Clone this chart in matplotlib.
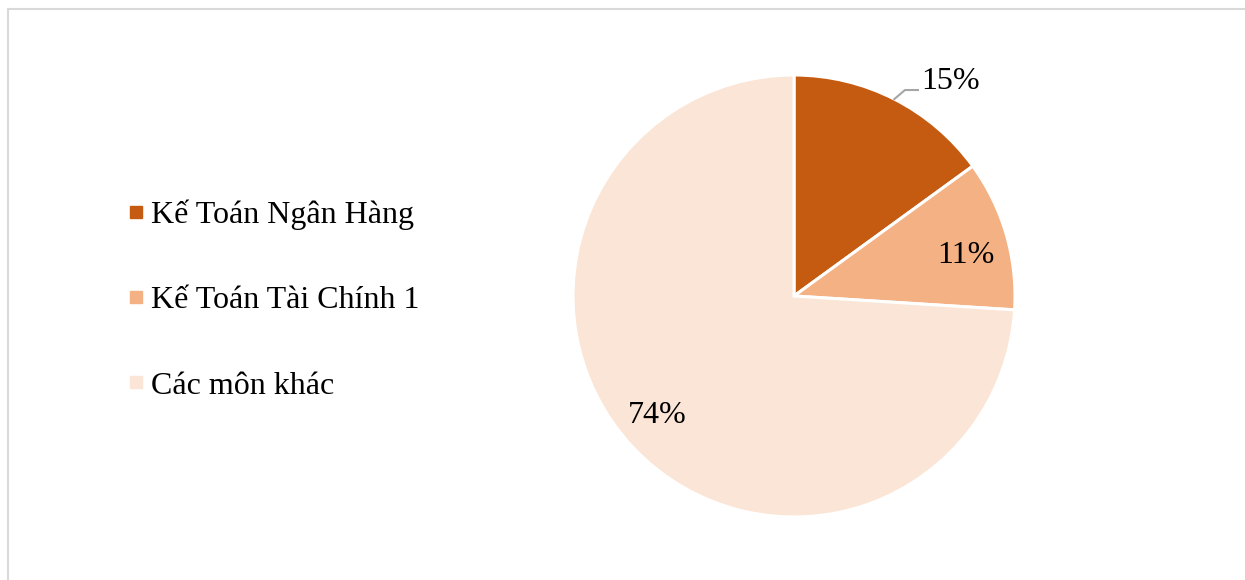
import numpy as np
import matplotlib.pyplot as plt
from matplotlib.lines import Line2D
from matplotlib.patches import Rectangle

plt.rcParams['font.family'] = ['Liberation Serif', 'DejaVu Serif']

# Dữ liệu biểu đồ
labels = ['Kế Toán Ngân Hàng', 'Kế Toán Tài Chính 1', 'Các môn khác']
values = [15, 11, 74]
colors = ['#C55A11', '#F4B183', '#FBE5D6']

W, H = 1245, 580
fig = plt.figure(figsize=(W / 100, H / 100), dpi=100)

# khung viền mờ
fig.add_artist(Rectangle((8 / W, -0.1), 1.2, (H - 8.5) / H + 0.1,
                         transform=fig.transFigure, fill=False,
                         edgecolor='#D9D9D9', linewidth=1.5))

# trục tròn: tâm (794, 296), bán kính 221 px
cx, cy, r = 794, 296, 221
ax = fig.add_axes([(cx - r) / W, (H - cy - r) / H, 2 * r / W, 2 * r / H])

wedges, _ = ax.pie(values, colors=colors, startangle=90, counterclock=False,
                   radius=1, wedgeprops=dict(edgecolor='white', linewidth=2.2))
ax.set_xlim(-1, 1)
ax.set_ylim(-1, 1)
ax.set_aspect('equal')
ax.axis('off')

fs = 23
# (khoảng cách, lệch góc) của nhãn trong lát
inside = {1: (0.80, -3.0), 2: (0.82, -2.0)}
for i, w in enumerate(wedges):
    mid_deg = (w.theta1 + w.theta2) / 2
    txt = f'{values[i]}%'
    if i == 0:
        # nhãn đầu nằm ngoài, có đường dẫn
        mid = np.deg2rad(mid_deg)
        x0, y0 = np.cos(mid), np.sin(mid)
        ax.plot([x0, 0.502, 0.561], [y0, 0.932, 0.932], color='#A6A6A6',
                lw=1.5, clip_on=False)
        ax.text(0.575, 0.97, txt, fontsize=fs, ha='left', va='center')
    else:
        d, off = inside[i]
        a = np.deg2rad(mid_deg + off)
        ax.text(d * np.cos(a), d * np.sin(a), txt, fontsize=fs,
                ha='center', va='center')

handles = [Line2D([], [], marker='s', linestyle='none', markersize=8,
                  markerfacecolor=c, markeredgecolor=c) for c in colors]
fig.legend(handles, labels, loc='center left',
           bbox_to_anchor=(112 / W, 1 - 300 / H), frameon=False,
           fontsize=fs, labelspacing=1.75, handlelength=0.5,
           handletextpad=0.22, borderpad=0)

fig.savefig('out.png', dpi=100)
